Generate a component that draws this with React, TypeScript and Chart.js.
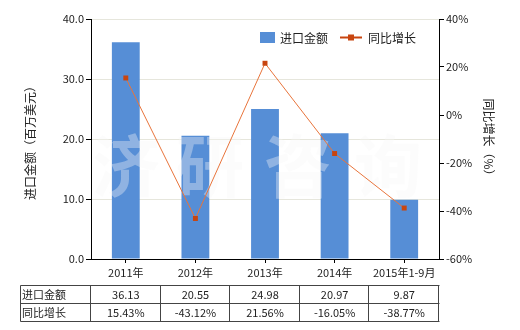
import React, { useEffect, useRef } from "react";
import { Chart, registerables } from "chart.js";

Chart.register(...registerables);

const categories = ["2011年", "2012年", "2013年", "2014年", "2015年1-9月"];
const importValues = [36.13, 20.55, 24.98, 20.97, 9.87];
const yoyGrowth = [15.43, -43.12, 21.56, -16.05, -38.77];
const importLabels = ["36.13", "20.55", "24.98", "20.97", "9.87"];
const growthLabels = ["15.43%", "-43.12%", "21.56%", "-16.05%", "-38.77%"];
const seriesNames = ["进口金额", "同比增长"];
const leftTitle = "进口金额（百万美元）";
const rightTitle = "同比增长（%）";
const watermark = ["济", "研", "咨", "询"];

const FONT = '"Noto Sans CJK SC", "Noto Sans", sans-serif';
const BAR_COLOR = "#568ED6";
const LINE_COLOR = "#E8743B";
const POINT_COLOR = "#C8450F";

const extras = {
  id: "extras",
  afterDatasetDraw(chart: any, args: any) {
    if (args.meta.type !== "bar") return;
    const ctx = chart.ctx;
    ctx.save();
    ctx.fillStyle = "rgba(248,248,248,0.36)";
    ctx.font = `bold 68px ${FONT}`;
    ctx.textAlign = "center";
    ctx.textBaseline = "middle";
    const centers = [126, 210, 298, 388];
    watermark.forEach((ch, i) => ctx.fillText(ch, centers[i], 166));
    ctx.restore();
  },
  afterDraw(chart: any) {
    const ctx = chart.ctx;
    const x = chart.scales.x;
    ctx.save();
    // axis titles
    ctx.fillStyle = "#222";
    ctx.font = `12px ${FONT}`;
    ctx.textAlign = "center";
    ctx.textBaseline = "middle";
    ctx.save();
    ctx.translate(30, 140);
    ctx.rotate(-Math.PI / 2);
    ctx.fillText(leftTitle, 0, 0);
    ctx.restore();
    ctx.save();
    ctx.translate(489, 140);
    ctx.rotate(Math.PI / 2);
    ctx.fillText(rightTitle, 0, 0);
    ctx.restore();

    // legend
    ctx.font = `12px ${FONT}`;
    ctx.textAlign = "left";
    ctx.fillStyle = BAR_COLOR;
    ctx.fillRect(260, 32, 15, 11);
    ctx.fillStyle = "#222";
    ctx.fillText(seriesNames[0], 280, 38);
    ctx.strokeStyle = POINT_COLOR;
    ctx.lineWidth = 2;
    ctx.beginPath();
    ctx.moveTo(340, 37.5);
    ctx.lineTo(362, 37.5);
    ctx.stroke();
    ctx.fillStyle = POINT_COLOR;
    ctx.fillRect(348, 34.5, 6, 6);
    ctx.fillStyle = "#222";
    ctx.fillText(seriesNames[1], 368, 38);

    // table
    const half = (x.getPixelForValue(1) - x.getPixelForValue(0)) / 2;
    const cols = [21, ...categories.map((_, i) => Math.round(x.getPixelForValue(i) + half))];
    cols.splice(1, 0, Math.round(x.getPixelForValue(0) - half));
    const rows = [285.5, 303.5, 321.5];
    ctx.strokeStyle = "#444";
    ctx.lineWidth = 1;
    ctx.beginPath();
    rows.forEach((r) => {
      ctx.moveTo(cols[0] - 0.5, r);
      ctx.lineTo(cols[cols.length - 1] + 0.5, r);
    });
    cols.forEach((c) => {
      ctx.moveTo(c - 0.5, rows[0]);
      ctx.lineTo(c - 0.5, rows[2]);
    });
    ctx.stroke();
    ctx.fillStyle = "#222";
    ctx.font = `11px ${FONT}`;
    ctx.textAlign = "left";
    ctx.fillText(seriesNames[0], 22, 294.5);
    ctx.fillText(seriesNames[1], 22, 312.5);
    ctx.textAlign = "center";
    categories.forEach((_, i) => {
      const cx = x.getPixelForValue(i);
      ctx.fillText(importLabels[i], cx, 295);
      ctx.fillText(growthLabels[i], cx, 313);
    });
    ctx.restore();
  },
};

export default function App() {
  const ref = useRef<HTMLCanvasElement>(null);
  useEffect(() => {
    document.body.style.margin = "0";
    const chart = new Chart(ref.current!, {
      type: "bar",
      data: {
        labels: categories,
        datasets: [
          {
            type: "line",
            label: seriesNames[1],
            data: yoyGrowth,
            yAxisID: "y1",
            borderColor: LINE_COLOR,
            borderWidth: 1,
            pointStyle: "rect",
            pointRadius: 3.5,
            pointBackgroundColor: POINT_COLOR,
            pointBorderColor: POINT_COLOR,
            pointBorderWidth: 0,
            order: 0,
          } as any,
          {
            type: "bar",
            label: seriesNames[0],
            data: importValues,
            yAxisID: "y",
            backgroundColor: BAR_COLOR,
            barPercentage: 0.4,
            categoryPercentage: 1,
            order: 1,
          },
        ],
      },
      options: {
        responsive: false,
        animation: false,
        layout: { padding: { top: 19, left: 0, right: 0, bottom: 0 } },
        plugins: { legend: { display: false }, tooltip: { enabled: false } },
        scales: {
          x: {
            offset: true,
            grid: {
              display: true,
              drawOnChartArea: false,
              drawTicks: true,
              tickLength: 4,
              offset: false,
              tickColor: "#000",
            },
            border: { color: "#000", width: 1 },
            ticks: { color: "#222", font: { family: FONT, size: 11 }, padding: 3, maxRotation: 0 },
            afterFit: (s: any) => {
              s.height = 71;
            },
          },
          y: {
            position: "left",
            min: 0,
            max: 40,
            ticks: {
              stepSize: 10,
              color: "#222",
              font: { family: FONT, size: 11 },
              padding: 2,
              callback: (v: any) => Number(v).toFixed(1),
            },
            grid: { color: "#E6E6DC", tickColor: "#000", tickLength: 5 },
            border: { color: "#000", width: 1 },
            afterFit: (s: any) => {
              s.width = 91;
            },
          },
          y1: {
            position: "right",
            min: -60,
            max: 40,
            ticks: {
              stepSize: 20,
              color: "#222",
              font: { family: FONT, size: 11 },
              padding: 2,
              callback: (v: any) => `${v}%`,
            },
            grid: { drawOnChartArea: false, tickColor: "#000", tickLength: 5 },
            border: { color: "#000", width: 1 },
            afterFit: (s: any) => {
              s.width = 81;
            },
          },
        },
      },
      plugins: [extras],
    });
    return () => chart.destroy();
  }, []);
  return (
    <div style={{ position: "fixed", left: 0, top: 0, width: 520, height: 330, background: "#fff" }}>
      <canvas ref={ref} width={520} height={330} />
    </div>
  );
}
